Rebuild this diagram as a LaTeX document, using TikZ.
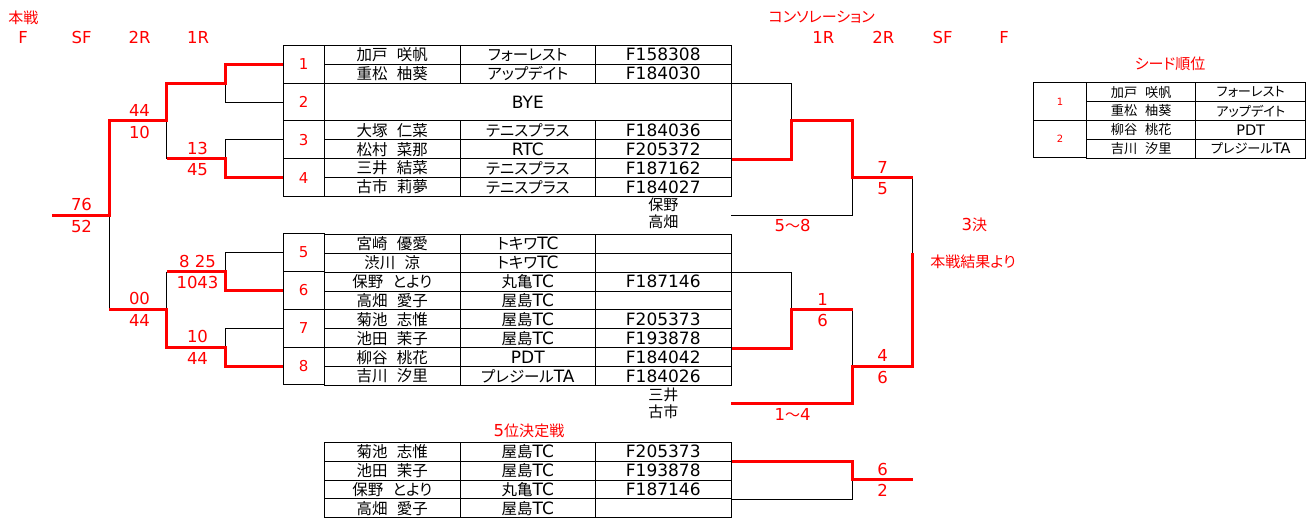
\documentclass[tikz,border=0pt]{standalone}
\usepackage{fontspec}
\setmainfont{DejaVu Sans}
\newfontfamily\jp[Scale=0.91,RawFeature=+palt]{Noto Sans CJK JP}
\usetikzlibrary{positioning, calc}
\newcommand{\ja}[1]{{\jp #1}}
\newcommand{\nm}[2]{{\jp #1\hspace{0.6em}#2}}
\tikzstyle{Win} = [red, line width=3pt]
\tikzstyle{Lose} = [black, line width=1pt]
\tikzstyle{Seed} = [draw, line width=1pt, text=red, inner sep=0pt,
minimum width=41.3pt, minimum height=37.8pt, font=\fontsize{15}{15}\selectfont]
\tikzstyle{Cell} = [draw, line width=1pt, inner sep=0pt,
minimum width=136pt, minimum height=18.9pt, font=\fontsize{17}{17}\selectfont]
\tikzstyle{Mini} = [draw, line width=1pt, inner sep=0pt,
minimum height=18.85pt, font=\fontsize{14.5}{14.5}\selectfont]
\tikzstyle{Score} = [red, inner sep=0pt, font=\fontsize{16.5}{16.5}\selectfont]
\tikzstyle{Head} = [red, inner sep=0pt, font=\fontsize{16.5}{16.5}\selectfont]

\begin{document}
\begin{tikzpicture}[x=1pt, y=-1pt]
    \useasboundingbox (0,0) rectangle (1314,517);

    % headings
    \node[Head] (hmain) at (23.3,18.3) {\ja{本戦}};
    \node[Head] (hF) at (23,37) {F};
    \node[Head] (hSF) at (81.7,37) {SF};
    \node[Head] (h2R) at (139.7,37) {2R};
    \node[Head] (h1R) at (198,37) {1R};
    \node[Head] (hcons) at (821.7,17.3) {\ja{コンソレーション}};
    \node[Head] (c1R) at (823.3,37) {1R};
    \node[Head] (c2R) at (883.3,37) {2R};
    \node[Head] (cSF) at (942.7,37) {SF};
    \node[Head] (cF) at (1004,37) {F};

    % draw table
    \foreach \s/\y in {1/64.2, 2/102, 3/139.8, 4/177.6, 5/252.6, 6/290.4, 7/328.2, 8/366}
        \node[Seed] (p\s) at (303.65,\y) {\s};
    \foreach \r/\a/\b/\c/\d in {0/加戸/咲帆/\ja{フォーレスト}/F158308,
        1/重松/柚葵/\ja{アップデイト}/F184030,
        4/大塚/仁菜/\ja{テニスプラス}/F184036,
        5/松村/菜那/RTC/F205372,
        6/三井/結菜/\ja{テニスプラス}/F187162,
        7/古市/莉夢/\ja{テニスプラス}/F184027,
        10/宮崎/優愛/\ja{トキワ}TC/{},
        11/渋川/涼/\ja{トキワ}TC/{},
        12/保野/とより/\ja{丸亀}TC/F187146,
        13/高畑/愛子/\ja{屋島}TC/{},
        14/菊池/志惟/\ja{屋島}TC/F205373,
        15/池田/茉子/\ja{屋島}TC/F193878,
        16/柳谷/桃花/PDT/F184042,
        17/吉川/汐里/\ja{プレジール}TA/F184026,
        21/菊池/志惟/\ja{屋島}TC/F205373,
        22/池田/茉子/\ja{屋島}TC/F193878,
        23/保野/とより/\ja{丸亀}TC/F187146,
        24/高畑/愛子/\ja{屋島}TC/{}}
    {
        \node[Cell] (n\r) at (392.3,{54.75+18.9*\r}) {\nm{\a}{\b}};
        \node[Cell, minimum width=135pt] (c\r) at (527.8,{54.75+18.9*\r}) {\c};
        \node[Cell] (i\r) at (663.3,{54.75+18.9*\r}) {\d};
    }
    \node[Cell, minimum width=407pt, minimum height=37.8pt] (bye) at (527.8,102) {BYE};

    \node[font=\fontsize{16.5}{16.7}\selectfont, align=center, inner sep=0pt] (w58) at (663.3,213.4) {\ja{保野}\\\ja{高畑}};
    \node[font=\fontsize{16.5}{16.7}\selectfont, align=center, inner sep=0pt] (w14) at (663.3,403) {\ja{三井}\\\ja{古市}};
    \node[Head] (fifth) at (529,431) {5\ja{位決定戦}};

    % seed list
    \node[Head] (hseed) at (1170,64) {\ja{シード順位}};
    \node[Mini, text=red, minimum width=53.4pt, minimum height=37.65pt, font=\fontsize{10}{10}\selectfont] (sd1) at (1060,101.5) {1};
    \node[Mini, text=red, minimum width=53.4pt, minimum height=37.65pt, font=\fontsize{10}{10}\selectfont] (sd2) at (1060,139.15) {2};
    \foreach \k/\a/\b/\c in {0/加戸/咲帆/\ja{フォーレスト}, 1/重松/柚葵/\ja{アップデイト},
        2/柳谷/桃花/PDT, 3/吉川/汐里/\ja{プレジール}TA}
    {
        \node[Mini, minimum width=109pt] (sn\k) at (1141.2,{92.1+18.825*\k}) {\nm{\a}{\b}};
        \node[Mini, minimum width=110pt] (sc\k) at (1250.7,{92.1+18.825*\k}) {\c};
    }

    % main draw
    \coordinate (m1) at (225.7,83.1);
    \coordinate (m2) at (225.7,158.7);
    \coordinate (m3) at (225.7,271.5);
    \coordinate (m4) at (225.7,347.1);
    \coordinate (r1) at (166.7,120.9);
    \coordinate (r2) at (166.7,309.3);
    \coordinate (sf) at (109.3,215.1);
    \coordinate (fin) at (51.7,215.1);

    \draw[Lose] (p2.west) -| (m1);
    \draw[Lose] (p3.west) -| (m2);
    \draw[Lose] (m2 -| r1) -- (r1);
    \draw[Lose] (p5.west) -| (m3);
    \draw[Lose] (m3 -| r2) -- (r2);
    \draw[Lose] (p7.west) -| (m4);
    \draw[Lose] (r2 -| sf) -- (sf);
    \draw[Win] (p1.west) -| (m1) -| (r1) -| (sf) -- (fin);
    \draw[Win] (p4.west) -| (m2) -- (m2 -| r1);
    \draw[Win] (p6.west) -| (m3) -- (m3 -| r2);
    \draw[Win] (p8.west) -| (m4) -| (r2) -- (r2 -| sf);

    % consolation
    \coordinate (t3) at (731.3,215.1);
    \coordinate (t6) at (731.3,403.3);
    \coordinate (k1) at (791.7,120.9);
    \coordinate (k2) at (791.7,309.3);
    \coordinate (k3) at (852.7,177.3);
    \coordinate (k4) at (852.7,366);
    \coordinate (k5) at (852.7,479.5);
    \coordinate (k6) at (912.7,253.3);

    \draw[Lose] (i1.south east) -| (k1);
    \draw[Lose] (t3) -| (k3);
    \draw[Lose] (i11.south east) -| (k2);
    \draw[Lose] (k2 -| k4) -- (k4);
    \draw[Lose] (k6) -- (k6 |- k3);
    \draw[Lose] (i23.south east) -| (k5);
    \draw[Win] (i5.south east) -| (k1) -| (k3) -- (k3 -| k6);
    \draw[Win] (i15.south east) -| (k2) -- (k2 -| k4);
    \draw[Win] (t6) -| (k4) -| (k6);
    \draw[Win] (i21.south east) -| (k5) -- (k5 -| k6);

    \node[Score] (l58) at (792.7,225) {5\ja{～}8};
    \node[Score] (l14) at (792.7,414.3) {1\ja{～}4};
    \node[Head] (third) at (974.3,225) {3\ja{決}};
    \node[Head] (frommain) at (973,261.7) {\ja{本戦結果より}};

    % scores
    \foreach \n/\x/\y/\a/\b in {a/197.5/158.7/13/45, b/139.5/120.9/44/10, c/81.5/215.1/76/52,
        d/197.5/271.5/8 25/1043, e/197.5/347.1/10/44, f/139.5/309.3/00/44,
        g/822.5/309.3/1/6, h/882.5/177.3/7/5, i/882.5/366/4/6, j/882.5/479.5/6/2}
    {
        \node[Score, above=4pt] (\n1) at (\x,\y) {\a};
        \node[Score, below=5pt] (\n2) at (\x,\y) {\b};
    }
\end{tikzpicture}
\end{document}
